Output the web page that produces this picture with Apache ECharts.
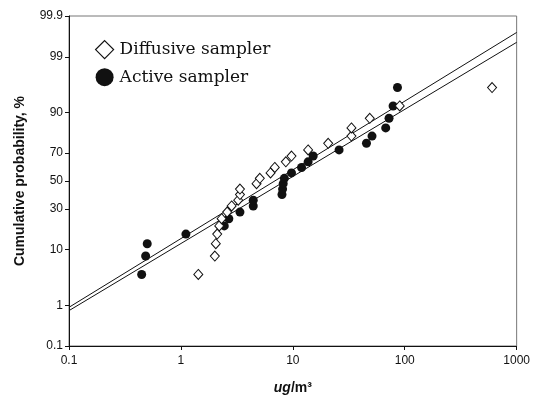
<!DOCTYPE html>
<html>
<head>
<meta charset="utf-8">
<script src="https://cdn.jsdelivr.net/npm/echarts@6/dist/echarts.min.js"></script>
<style>
html,body{margin:0;padding:0;background:#fff;}
#chart{width:533px;height:401px;}
</style>
</head>
<body>
<div id="chart"></div>
<script>
// ---- data ----
const cumulativeProbability = [4, 8, 12, 16, 20, 24, 28, 32, 36, 40, 44, 48, 52, 56, 60, 64, 68, 72, 76, 80, 84, 88, 92, 96];
const diffusiveConc = [1.43, 2.01, 2.05, 2.11, 2.20, 2.31, 2.59, 2.84, 3.25, 3.37, 3.37, 4.74, 5.07, 6.32, 6.9, 8.66, 9.73, 13.7, 20.7, 33.4, 33.4, 48.7, 90.2, 603];
const activeConc = [0.446, 0.484, 0.50, 1.108, 2.44, 2.68, 3.37, 4.43, 4.43, 8.0, 8.1, 8.2, 8.4, 9.73, 11.97, 13.7, 15.2, 25.9, 45.5, 51, 67.6, 72.4, 78.7, 86.1];
const fitConc = [0.1, 1000];
const diffusiveFitProb = [0.90, 99.73];
const activeFitProb = [0.76, 99.53];
const probTicks = [0.1, 1, 10, 30, 50, 70, 90, 99, 99.9];
const probTickLabels = ['0.1', '1', '10', '30', '50', '70', '90', '99', '99.9'];
const xTickLabels = ['0.1', '1', '10', '100', '1000'];

// inverse standard normal CDF (Acklam)
function probit(pPercent) {
  const p = pPercent / 100;
  const a = [-3.969683028665376e+01, 2.209460984245205e+02, -2.759285104469687e+02, 1.383577518672690e+02, -3.066479806614716e+01, 2.506628277459239e+00];
  const b = [-5.447609879822406e+01, 1.615858368580409e+02, -1.556989798598866e+02, 6.680131188771972e+01, -1.328068155288572e+01];
  const c = [-7.784894002430293e-03, -3.223964580411365e-01, -2.400758277161838e+00, -2.549732539343734e+00, 4.374664141464968e+00, 2.938163982698783e+00];
  const d = [7.784695709041462e-03, 3.224671290700398e-01, 2.445134137142996e+00, 3.754408661907416e+00];
  const pl = 0.02425, ph = 1 - pl;
  let q, r;
  if (p < pl) {
    q = Math.sqrt(-2 * Math.log(p));
    return (((((c[0]*q+c[1])*q+c[2])*q+c[3])*q+c[4])*q+c[5]) / ((((d[0]*q+d[1])*q+d[2])*q+d[3])*q+1);
  } else if (p <= ph) {
    q = p - 0.5; r = q * q;
    return (((((a[0]*r+a[1])*r+a[2])*r+a[3])*r+a[4])*r+a[5])*q / (((((b[0]*r+b[1])*r+b[2])*r+b[3])*r+b[4])*r+1);
  } else {
    q = Math.sqrt(-2 * Math.log(1 - p));
    return -(((((c[0]*q+c[1])*q+c[2])*q+c[3])*q+c[4])*q+c[5]) / ((((d[0]*q+d[1])*q+d[2])*q+d[3])*q+1);
  }
}

const zTicks = probTicks.map(probit);
const zMin = zTicks[0], zMax = zTicks[zTicks.length - 1];

function pairs(xs, ps) { return xs.map((x, i) => [x, probit(ps[i])]); }

const chart = echarts.init(document.getElementById('chart'), null, { renderer: 'canvas' });

const labelFont = { fontFamily: 'Liberation Sans, Arial, sans-serif', fontSize: 12, color: '#111' };

chart.setOption({
  animation: false,
  backgroundColor: '#fff',
  grid: { left: 69, right: 16, top: 16, bottom: 55, show: true, borderColor: '#777', borderWidth: 1, backgroundColor: 'transparent' },
  legend: {
    orient: 'vertical', left: 90, top: 35, itemGap: 9, itemWidth: 18, itemHeight: 18,
    textStyle: { fontFamily: 'DejaVu Serif, serif', fontSize: 17, color: '#111', padding: [0, 0, 0, 1] },
    data: [
      { name: 'Diffusive sampler', icon: 'diamond', itemStyle: { color: '#fff', borderColor: '#111', borderWidth: 1.2 } },
      { name: 'Active sampler', icon: 'circle', itemStyle: { color: '#111' } }
    ]
  },
  xAxis: {
    type: 'log', logBase: 10, min: 0.1, max: 1000,
    name: '{i|ug}{n|/m³}', nameLocation: 'middle', nameGap: 35,
    nameTextStyle: {
      fontFamily: 'Liberation Sans, Arial, sans-serif', fontSize: 14, fontWeight: 'bold', color: '#111',
      rich: {
        i: { fontFamily: 'Liberation Sans, Arial, sans-serif', fontSize: 14, fontWeight: 'bold', fontStyle: 'italic', color: '#111' },
        n: { fontFamily: 'Liberation Sans, Arial, sans-serif', fontSize: 14, fontWeight: 'bold', color: '#111' }
      }
    },
    axisLine: { onZero: false, lineStyle: { color: '#111', width: 1 } },
    axisTick: { inside: false, length: 4, lineStyle: { color: '#111' } },
    minorTick: { show: false },
    splitLine: { show: false },
    axisLabel: Object.assign({ margin: 9, formatter: function (v) {
      const i = Math.round(Math.log10(v)) + 1; return xTickLabels[i] !== undefined ? xTickLabels[i] : '';
    } }, labelFont)
  },
  yAxis: {
    type: 'value', min: zMin, max: zMax,
    name: 'Cumulative probability, %', nameLocation: 'middle', nameGap: 42,
    nameTextStyle: { fontFamily: 'Liberation Sans, Arial, sans-serif', fontSize: 14, fontWeight: 'bold', color: '#111' },
    axisLine: { show: true, onZero: false, lineStyle: { color: '#111', width: 1 } },
    axisTick: { show: true, inside: false, length: 4, customValues: zTicks, lineStyle: { color: '#111' } },
    splitLine: { show: false },
    axisLabel: Object.assign({ margin: 6, customValues: zTicks, formatter: function (v) {
      let best = 0, bd = Infinity;
      zTicks.forEach((z, i) => { const dd = Math.abs(z - v); if (dd < bd) { bd = dd; best = i; } });
      return probTickLabels[best];
    } }, labelFont)
  },
  series: [
    {
      name: 'Diffusive fit', type: 'line', data: pairs(fitConc, diffusiveFitProb), showSymbol: false, symbol: 'none',
      lineStyle: { color: '#111', width: 1 }, z: 1, silent: true
    },
    {
      name: 'Active fit', type: 'line', data: pairs(fitConc, activeFitProb), showSymbol: false, symbol: 'none',
      lineStyle: { color: '#111', width: 1 }, z: 1, silent: true
    },
    {
      name: 'Active sampler', type: 'scatter', data: pairs(activeConc, cumulativeProbability),
      symbol: 'circle', symbolSize: 9, itemStyle: { color: '#111', opacity: 1 }, z: 3
    },
    {
      name: 'Diffusive sampler', type: 'scatter', data: pairs(diffusiveConc, cumulativeProbability),
      symbol: 'diamond', symbolSize: [9, 10], itemStyle: { color: '#fff', borderColor: '#111', borderWidth: 1, opacity: 1 }, z: 4
    }
  ]
});
</script>
</body>
</html>
